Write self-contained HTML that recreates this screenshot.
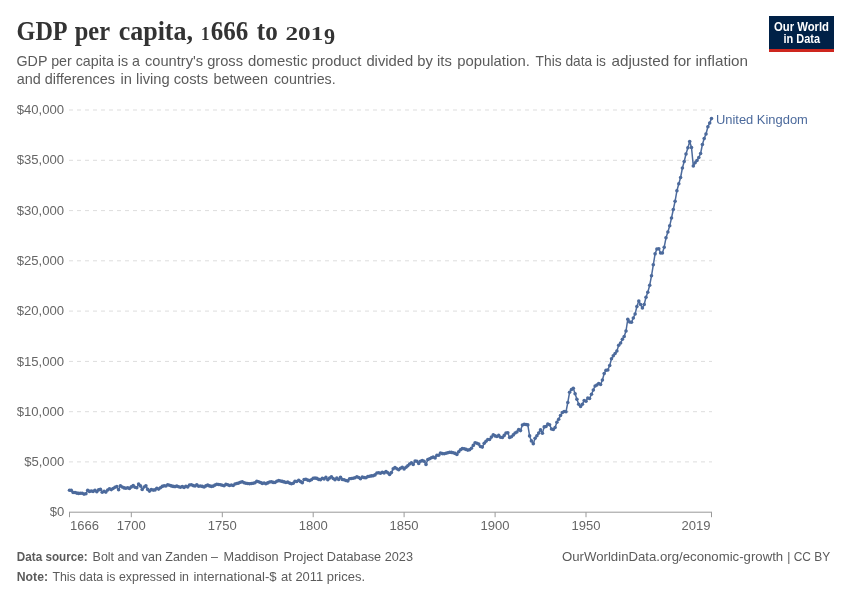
<!DOCTYPE html>
<html lang="en"><head><meta charset="utf-8"><title>GDP per capita, 1666 to 2019</title>
<style>
html,body{margin:0;padding:0;background:#fff;}
svg{display:block;font-family:"Liberation Sans",Arial,sans-serif;}
.title text{font-family:"Liberation Serif","Times New Roman",serif;font-weight:700;font-size:26.5px;fill:#333;}
.sub{font-size:14.6px;fill:#5b5b5b;}
.ylab text,.xlab text{font-size:13px;fill:#666;}
.grid line{stroke:#dddddd;stroke-width:1;stroke-dasharray:4 4;}
.axis line{stroke:#999;stroke-width:1;}
.foot{font-size:13px;fill:#5b5b5b;}
.b{font-weight:700;}
.logo text{font-weight:700;fill:#fff;font-size:12px;}
</style></head>
<body>
<svg width="850" height="600" viewBox="0 0 850 600">
<rect width="850" height="600" fill="#fff"/>
<g class="title">
<text x="16.6" y="40" textLength="51" lengthAdjust="spacingAndGlyphs">GDP</text>
<text x="74.7" y="40" textLength="35.3" lengthAdjust="spacingAndGlyphs">per</text>
<text x="118.7" y="40" textLength="74.3" lengthAdjust="spacingAndGlyphs">capita,</text>
<text x="201" y="40" style="font-size:18.4px" textLength="8.5" lengthAdjust="spacingAndGlyphs">1</text>
<text x="210.7" y="40" textLength="37.5" lengthAdjust="spacingAndGlyphs">666</text>
<text x="256.8" y="40" textLength="20.9" lengthAdjust="spacingAndGlyphs">to</text>
<text x="285.4" y="40" style="font-size:18.4px" textLength="37.9" lengthAdjust="spacingAndGlyphs">201</text>
<text x="324.1" y="44" style="font-size:24px" textLength="11.1" lengthAdjust="spacingAndGlyphs">9</text>
</g>
<text class="sub" x="16.5" y="66.2" textLength="123.5" lengthAdjust="spacingAndGlyphs">GDP per capita is a</text>
<text class="sub" x="145" y="66.2" textLength="98" lengthAdjust="spacingAndGlyphs">country's gross</text>
<text class="sub" x="248" y="66.2" textLength="113.4" lengthAdjust="spacingAndGlyphs">domestic product</text>
<text class="sub" x="366.4" y="66.2" textLength="85.4" lengthAdjust="spacingAndGlyphs">divided by its</text>
<text class="sub" x="457.2" y="66.2" textLength="72.7" lengthAdjust="spacingAndGlyphs">population.</text>
<text class="sub" x="535.6" y="66.2" textLength="70.3" lengthAdjust="spacingAndGlyphs">This data is</text>
<text class="sub" x="611.5" y="66.2" textLength="136.5" lengthAdjust="spacingAndGlyphs">adjusted for inflation</text>
<text class="sub" x="16.7" y="84.2" textLength="98.3" lengthAdjust="spacingAndGlyphs">and differences</text>
<text class="sub" x="120.6" y="84.2" textLength="87.4" lengthAdjust="spacingAndGlyphs">in living costs</text>
<text class="sub" x="213.4" y="84.2" textLength="54.6" lengthAdjust="spacingAndGlyphs">between</text>
<text class="sub" x="274" y="84.2" textLength="61.6" lengthAdjust="spacingAndGlyphs">countries.</text>
<g class="logo">
<rect x="769" y="16" width="65" height="36" fill="#002147"/>
<rect x="769" y="49" width="65" height="3" fill="#ce261e"/>
<text x="774" y="30.5" textLength="55" lengthAdjust="spacingAndGlyphs">Our World</text>
<text x="783.5" y="42.5" textLength="36.5" lengthAdjust="spacingAndGlyphs">in Data</text>
</g>
<g class="grid"><line x1="69" x2="712" y1="461.9" y2="461.9"/><line x1="69" x2="712" y1="411.7" y2="411.7"/><line x1="69" x2="712" y1="361.4" y2="361.4"/><line x1="69" x2="712" y1="311.1" y2="311.1"/><line x1="69" x2="712" y1="260.8" y2="260.8"/><line x1="69" x2="712" y1="210.6" y2="210.6"/><line x1="69" x2="712" y1="160.3" y2="160.3"/><line x1="69" x2="712" y1="110.0" y2="110.0"/></g>
<g class="ylab"><text x="49.7" y="516.3" textLength="14.5" lengthAdjust="spacingAndGlyphs">$0</text><text x="24.2" y="466.0" textLength="40" lengthAdjust="spacingAndGlyphs">$5,000</text><text x="16.7" y="415.8" textLength="47.5" lengthAdjust="spacingAndGlyphs">$10,000</text><text x="16.7" y="365.5" textLength="47.5" lengthAdjust="spacingAndGlyphs">$15,000</text><text x="16.7" y="315.2" textLength="47.5" lengthAdjust="spacingAndGlyphs">$20,000</text><text x="16.7" y="264.9" textLength="47.5" lengthAdjust="spacingAndGlyphs">$25,000</text><text x="16.7" y="214.7" textLength="47.5" lengthAdjust="spacingAndGlyphs">$30,000</text><text x="16.7" y="164.4" textLength="47.5" lengthAdjust="spacingAndGlyphs">$35,000</text><text x="16.7" y="114.1" textLength="47.5" lengthAdjust="spacingAndGlyphs">$40,000</text></g>
<g class="axis"><line x1="69" x2="712" y1="512.2" y2="512.2"/><line x1="69.5" x2="69.5" y1="512.2" y2="517.2"/><line x1="131.3" x2="131.3" y1="512.2" y2="517.2"/><line x1="222.3" x2="222.3" y1="512.2" y2="517.2"/><line x1="313.2" x2="313.2" y1="512.2" y2="517.2"/><line x1="404.1" x2="404.1" y1="512.2" y2="517.2"/><line x1="495.1" x2="495.1" y1="512.2" y2="517.2"/><line x1="586.0" x2="586.0" y1="512.2" y2="517.2"/><line x1="711.5" x2="711.5" y1="512.2" y2="517.2"/></g>
<g class="xlab"><text x="70.0" y="530.3" textLength="29" lengthAdjust="spacingAndGlyphs">1666</text><text x="116.8" y="530.3" textLength="29" lengthAdjust="spacingAndGlyphs">1700</text><text x="207.8" y="530.3" textLength="29" lengthAdjust="spacingAndGlyphs">1750</text><text x="298.7" y="530.3" textLength="29" lengthAdjust="spacingAndGlyphs">1800</text><text x="389.6" y="530.3" textLength="29" lengthAdjust="spacingAndGlyphs">1850</text><text x="480.6" y="530.3" textLength="29" lengthAdjust="spacingAndGlyphs">1900</text><text x="571.5" y="530.3" textLength="29" lengthAdjust="spacingAndGlyphs">1950</text><text x="681.6" y="530.3" textLength="29" lengthAdjust="spacingAndGlyphs">2019</text></g>
<path d="M69.5,490.2 L71.3,490.4 L73.1,492.5 L75.0,492.5 L76.8,493.1 L78.6,493.4 L80.4,493.2 L82.2,493.3 L84.0,494.1 L85.9,493.8 L87.7,490.2 L89.5,491.4 L91.3,491.0 L93.1,491.4 L95.0,490.3 L96.8,491.7 L98.6,489.9 L100.4,489.3 L102.2,492.3 L104.1,491.4 L105.9,492.1 L107.7,490.0 L109.5,488.8 L111.3,489.6 L113.1,488.5 L115.0,487.2 L116.8,486.6 L118.6,489.7 L120.4,485.8 L122.2,487.0 L124.1,487.9 L125.9,488.3 L127.7,487.7 L129.5,488.4 L131.3,486.9 L133.2,485.6 L135.0,487.2 L136.8,487.8 L138.6,484.1 L140.4,485.9 L142.2,489.5 L144.1,487.0 L145.9,485.8 L147.7,489.4 L149.5,491.1 L151.3,489.6 L153.2,490.1 L155.0,489.9 L156.8,488.2 L158.6,489.1 L160.4,487.8 L162.3,486.4 L164.1,485.8 L165.9,486.0 L167.7,484.7 L169.5,485.3 L171.3,485.9 L173.2,486.4 L175.0,486.6 L176.8,486.1 L178.6,486.8 L180.4,487.3 L182.3,486.6 L184.1,487.4 L185.9,486.3 L187.7,486.9 L189.5,485.0 L191.4,484.8 L193.2,485.6 L195.0,486.0 L196.8,484.8 L198.6,486.2 L200.4,486.0 L202.3,486.4 L204.1,487.0 L205.9,485.9 L207.7,485.1 L209.5,485.9 L211.4,486.4 L213.2,486.1 L215.0,485.1 L216.8,484.2 L218.6,484.5 L220.5,484.7 L222.3,485.2 L224.1,485.7 L225.9,484.4 L227.7,484.8 L229.5,485.5 L231.4,485.0 L233.2,485.5 L235.0,484.0 L236.8,483.5 L238.6,483.1 L240.5,482.2 L242.3,481.8 L244.1,482.8 L245.9,483.2 L247.7,483.5 L249.6,483.7 L251.4,483.5 L253.2,483.3 L255.0,482.8 L256.8,481.2 L258.6,481.8 L260.5,482.5 L262.3,483.4 L264.1,483.0 L265.9,483.8 L267.7,482.9 L269.6,482.0 L271.4,481.8 L273.2,482.4 L275.0,482.5 L276.8,481.3 L278.7,480.6 L280.5,481.0 L282.3,481.4 L284.1,481.9 L285.9,482.5 L287.7,482.1 L289.6,483.1 L291.4,483.7 L293.2,483.2 L295.0,481.2 L296.8,481.5 L298.7,480.3 L300.5,481.6 L302.3,482.8 L304.1,479.5 L305.9,479.2 L307.7,480.1 L309.6,480.6 L311.4,479.7 L313.2,478.2 L315.0,478.1 L316.8,478.4 L318.7,479.4 L320.5,479.8 L322.3,478.2 L324.1,478.9 L325.9,477.4 L327.8,479.7 L329.6,478.1 L331.4,476.7 L333.2,478.5 L335.0,479.8 L336.8,478.1 L338.7,479.5 L340.5,477.2 L342.3,479.5 L344.1,479.8 L345.9,480.5 L347.8,480.9 L349.6,478.8 L351.4,478.5 L353.2,478.3 L355.0,477.7 L356.9,476.7 L358.7,477.5 L360.5,478.8 L362.3,477.1 L364.1,477.6 L365.9,477.7 L367.8,476.6 L369.6,476.2 L371.4,475.9 L373.2,475.7 L375.0,474.9 L376.9,473.0 L378.7,472.7 L380.5,473.2 L382.3,472.2 L384.1,472.9 L386.0,471.6 L387.8,472.8 L389.6,474.4 L391.4,472.6 L393.2,468.8 L395.0,467.5 L396.9,468.8 L398.7,469.8 L400.5,468.3 L402.3,467.3 L404.1,468.9 L406.0,467.3 L407.8,465.7 L409.6,464.0 L411.4,462.7 L413.2,464.4 L415.1,461.0 L416.9,461.2 L418.7,463.4 L420.5,461.2 L422.3,460.6 L424.1,461.3 L426.0,464.4 L427.8,459.6 L429.6,458.7 L431.4,457.8 L433.2,457.1 L435.1,457.9 L436.9,455.2 L438.7,455.3 L440.5,453.0 L442.3,453.6 L444.2,453.8 L446.0,453.3 L447.8,452.8 L449.6,452.3 L451.4,452.4 L453.2,452.7 L455.1,453.4 L456.9,454.4 L458.7,451.7 L460.5,449.8 L462.3,448.6 L464.2,448.8 L466.0,449.4 L467.8,450.1 L469.6,449.7 L471.4,448.2 L473.3,445.4 L475.1,442.8 L476.9,443.3 L478.7,444.1 L480.5,446.5 L482.3,447.1 L484.2,443.3 L486.0,441.2 L487.8,439.5 L489.6,439.5 L491.4,437.1 L493.3,434.7 L495.1,435.9 L496.9,436.5 L498.7,435.4 L500.5,437.2 L502.4,437.5 L504.2,435.4 L506.0,433.0 L507.8,432.8 L509.6,437.5 L511.4,436.8 L513.3,434.9 L515.1,433.0 L516.9,432.0 L518.7,429.6 L520.5,430.6 L522.4,425.0 L524.2,424.3 L526.0,424.5 L527.8,424.9 L529.6,435.9 L531.4,440.9 L533.3,443.7 L535.1,438.2 L536.9,435.7 L538.7,433.1 L540.5,429.9 L542.4,433.2 L544.2,426.9 L546.0,426.5 L547.8,424.0 L549.6,424.8 L551.5,429.0 L553.3,429.5 L555.1,427.5 L556.9,422.2 L558.7,419.2 L560.5,415.5 L562.4,412.5 L564.2,411.5 L566.0,411.8 L567.8,402.5 L569.6,392.2 L571.5,389.5 L573.3,388.2 L575.1,393.8 L576.9,399.2 L578.7,404.2 L580.6,406.5 L582.4,404.2 L584.2,400.5 L586.0,401.2 L587.8,398.0 L589.6,398.5 L591.5,394.2 L593.3,390.0 L595.1,386.0 L596.9,385.0 L598.7,383.5 L600.6,384.5 L602.4,380.0 L604.2,373.5 L606.0,370.2 L607.8,370.0 L609.7,365.5 L611.5,358.8 L613.3,355.8 L615.1,353.5 L616.9,351.0 L618.7,345.3 L620.6,343.0 L622.4,339.3 L624.2,336.5 L626.0,331.0 L627.8,319.2 L629.7,322.0 L631.5,322.2 L633.3,318.0 L635.1,314.0 L636.9,306.5 L638.8,301.0 L640.6,304.5 L642.4,308.0 L644.2,304.5 L646.0,297.2 L647.8,292.2 L649.7,285.2 L651.5,275.8 L653.3,264.8 L655.1,253.8 L656.9,249.0 L658.8,248.8 L660.6,253.0 L662.4,253.0 L664.2,247.2 L666.0,237.8 L667.9,232.0 L669.7,225.8 L671.5,218.0 L673.3,209.5 L675.1,201.2 L676.9,190.8 L678.8,183.8 L680.6,177.5 L682.4,168.0 L684.2,161.5 L686.0,154.0 L687.9,147.8 L689.7,141.5 L691.5,147.5 L693.3,166.0 L695.1,162.8 L697.0,160.5 L698.8,157.5 L700.6,153.5 L702.4,144.5 L704.2,138.5 L706.0,134.0 L707.9,126.8 L709.7,123.0 L711.5,118.5" fill="none" stroke="#4C6A9C" stroke-width="1.5" stroke-linejoin="round" stroke-linecap="round"/>
<g fill="#4C6A9C"><circle cx="69.5" cy="490.2" r="1.8"/><circle cx="71.3" cy="490.4" r="1.8"/><circle cx="73.1" cy="492.5" r="1.8"/><circle cx="75.0" cy="492.5" r="1.8"/><circle cx="76.8" cy="493.1" r="1.8"/><circle cx="78.6" cy="493.4" r="1.8"/><circle cx="80.4" cy="493.2" r="1.8"/><circle cx="82.2" cy="493.3" r="1.8"/><circle cx="84.0" cy="494.1" r="1.8"/><circle cx="85.9" cy="493.8" r="1.8"/><circle cx="87.7" cy="490.2" r="1.8"/><circle cx="89.5" cy="491.4" r="1.8"/><circle cx="91.3" cy="491.0" r="1.8"/><circle cx="93.1" cy="491.4" r="1.8"/><circle cx="95.0" cy="490.3" r="1.8"/><circle cx="96.8" cy="491.7" r="1.8"/><circle cx="98.6" cy="489.9" r="1.8"/><circle cx="100.4" cy="489.3" r="1.8"/><circle cx="102.2" cy="492.3" r="1.8"/><circle cx="104.1" cy="491.4" r="1.8"/><circle cx="105.9" cy="492.1" r="1.8"/><circle cx="107.7" cy="490.0" r="1.8"/><circle cx="109.5" cy="488.8" r="1.8"/><circle cx="111.3" cy="489.6" r="1.8"/><circle cx="113.1" cy="488.5" r="1.8"/><circle cx="115.0" cy="487.2" r="1.8"/><circle cx="116.8" cy="486.6" r="1.8"/><circle cx="118.6" cy="489.7" r="1.8"/><circle cx="120.4" cy="485.8" r="1.8"/><circle cx="122.2" cy="487.0" r="1.8"/><circle cx="124.1" cy="487.9" r="1.8"/><circle cx="125.9" cy="488.3" r="1.8"/><circle cx="127.7" cy="487.7" r="1.8"/><circle cx="129.5" cy="488.4" r="1.8"/><circle cx="131.3" cy="486.9" r="1.8"/><circle cx="133.2" cy="485.6" r="1.8"/><circle cx="135.0" cy="487.2" r="1.8"/><circle cx="136.8" cy="487.8" r="1.8"/><circle cx="138.6" cy="484.1" r="1.8"/><circle cx="140.4" cy="485.9" r="1.8"/><circle cx="142.2" cy="489.5" r="1.8"/><circle cx="144.1" cy="487.0" r="1.8"/><circle cx="145.9" cy="485.8" r="1.8"/><circle cx="147.7" cy="489.4" r="1.8"/><circle cx="149.5" cy="491.1" r="1.8"/><circle cx="151.3" cy="489.6" r="1.8"/><circle cx="153.2" cy="490.1" r="1.8"/><circle cx="155.0" cy="489.9" r="1.8"/><circle cx="156.8" cy="488.2" r="1.8"/><circle cx="158.6" cy="489.1" r="1.8"/><circle cx="160.4" cy="487.8" r="1.8"/><circle cx="162.3" cy="486.4" r="1.8"/><circle cx="164.1" cy="485.8" r="1.8"/><circle cx="165.9" cy="486.0" r="1.8"/><circle cx="167.7" cy="484.7" r="1.8"/><circle cx="169.5" cy="485.3" r="1.8"/><circle cx="171.3" cy="485.9" r="1.8"/><circle cx="173.2" cy="486.4" r="1.8"/><circle cx="175.0" cy="486.6" r="1.8"/><circle cx="176.8" cy="486.1" r="1.8"/><circle cx="178.6" cy="486.8" r="1.8"/><circle cx="180.4" cy="487.3" r="1.8"/><circle cx="182.3" cy="486.6" r="1.8"/><circle cx="184.1" cy="487.4" r="1.8"/><circle cx="185.9" cy="486.3" r="1.8"/><circle cx="187.7" cy="486.9" r="1.8"/><circle cx="189.5" cy="485.0" r="1.8"/><circle cx="191.4" cy="484.8" r="1.8"/><circle cx="193.2" cy="485.6" r="1.8"/><circle cx="195.0" cy="486.0" r="1.8"/><circle cx="196.8" cy="484.8" r="1.8"/><circle cx="198.6" cy="486.2" r="1.8"/><circle cx="200.4" cy="486.0" r="1.8"/><circle cx="202.3" cy="486.4" r="1.8"/><circle cx="204.1" cy="487.0" r="1.8"/><circle cx="205.9" cy="485.9" r="1.8"/><circle cx="207.7" cy="485.1" r="1.8"/><circle cx="209.5" cy="485.9" r="1.8"/><circle cx="211.4" cy="486.4" r="1.8"/><circle cx="213.2" cy="486.1" r="1.8"/><circle cx="215.0" cy="485.1" r="1.8"/><circle cx="216.8" cy="484.2" r="1.8"/><circle cx="218.6" cy="484.5" r="1.8"/><circle cx="220.5" cy="484.7" r="1.8"/><circle cx="222.3" cy="485.2" r="1.8"/><circle cx="224.1" cy="485.7" r="1.8"/><circle cx="225.9" cy="484.4" r="1.8"/><circle cx="227.7" cy="484.8" r="1.8"/><circle cx="229.5" cy="485.5" r="1.8"/><circle cx="231.4" cy="485.0" r="1.8"/><circle cx="233.2" cy="485.5" r="1.8"/><circle cx="235.0" cy="484.0" r="1.8"/><circle cx="236.8" cy="483.5" r="1.8"/><circle cx="238.6" cy="483.1" r="1.8"/><circle cx="240.5" cy="482.2" r="1.8"/><circle cx="242.3" cy="481.8" r="1.8"/><circle cx="244.1" cy="482.8" r="1.8"/><circle cx="245.9" cy="483.2" r="1.8"/><circle cx="247.7" cy="483.5" r="1.8"/><circle cx="249.6" cy="483.7" r="1.8"/><circle cx="251.4" cy="483.5" r="1.8"/><circle cx="253.2" cy="483.3" r="1.8"/><circle cx="255.0" cy="482.8" r="1.8"/><circle cx="256.8" cy="481.2" r="1.8"/><circle cx="258.6" cy="481.8" r="1.8"/><circle cx="260.5" cy="482.5" r="1.8"/><circle cx="262.3" cy="483.4" r="1.8"/><circle cx="264.1" cy="483.0" r="1.8"/><circle cx="265.9" cy="483.8" r="1.8"/><circle cx="267.7" cy="482.9" r="1.8"/><circle cx="269.6" cy="482.0" r="1.8"/><circle cx="271.4" cy="481.8" r="1.8"/><circle cx="273.2" cy="482.4" r="1.8"/><circle cx="275.0" cy="482.5" r="1.8"/><circle cx="276.8" cy="481.3" r="1.8"/><circle cx="278.7" cy="480.6" r="1.8"/><circle cx="280.5" cy="481.0" r="1.8"/><circle cx="282.3" cy="481.4" r="1.8"/><circle cx="284.1" cy="481.9" r="1.8"/><circle cx="285.9" cy="482.5" r="1.8"/><circle cx="287.7" cy="482.1" r="1.8"/><circle cx="289.6" cy="483.1" r="1.8"/><circle cx="291.4" cy="483.7" r="1.8"/><circle cx="293.2" cy="483.2" r="1.8"/><circle cx="295.0" cy="481.2" r="1.8"/><circle cx="296.8" cy="481.5" r="1.8"/><circle cx="298.7" cy="480.3" r="1.8"/><circle cx="300.5" cy="481.6" r="1.8"/><circle cx="302.3" cy="482.8" r="1.8"/><circle cx="304.1" cy="479.5" r="1.8"/><circle cx="305.9" cy="479.2" r="1.8"/><circle cx="307.7" cy="480.1" r="1.8"/><circle cx="309.6" cy="480.6" r="1.8"/><circle cx="311.4" cy="479.7" r="1.8"/><circle cx="313.2" cy="478.2" r="1.8"/><circle cx="315.0" cy="478.1" r="1.8"/><circle cx="316.8" cy="478.4" r="1.8"/><circle cx="318.7" cy="479.4" r="1.8"/><circle cx="320.5" cy="479.8" r="1.8"/><circle cx="322.3" cy="478.2" r="1.8"/><circle cx="324.1" cy="478.9" r="1.8"/><circle cx="325.9" cy="477.4" r="1.8"/><circle cx="327.8" cy="479.7" r="1.8"/><circle cx="329.6" cy="478.1" r="1.8"/><circle cx="331.4" cy="476.7" r="1.8"/><circle cx="333.2" cy="478.5" r="1.8"/><circle cx="335.0" cy="479.8" r="1.8"/><circle cx="336.8" cy="478.1" r="1.8"/><circle cx="338.7" cy="479.5" r="1.8"/><circle cx="340.5" cy="477.2" r="1.8"/><circle cx="342.3" cy="479.5" r="1.8"/><circle cx="344.1" cy="479.8" r="1.8"/><circle cx="345.9" cy="480.5" r="1.8"/><circle cx="347.8" cy="480.9" r="1.8"/><circle cx="349.6" cy="478.8" r="1.8"/><circle cx="351.4" cy="478.5" r="1.8"/><circle cx="353.2" cy="478.3" r="1.8"/><circle cx="355.0" cy="477.7" r="1.8"/><circle cx="356.9" cy="476.7" r="1.8"/><circle cx="358.7" cy="477.5" r="1.8"/><circle cx="360.5" cy="478.8" r="1.8"/><circle cx="362.3" cy="477.1" r="1.8"/><circle cx="364.1" cy="477.6" r="1.8"/><circle cx="365.9" cy="477.7" r="1.8"/><circle cx="367.8" cy="476.6" r="1.8"/><circle cx="369.6" cy="476.2" r="1.8"/><circle cx="371.4" cy="475.9" r="1.8"/><circle cx="373.2" cy="475.7" r="1.8"/><circle cx="375.0" cy="474.9" r="1.8"/><circle cx="376.9" cy="473.0" r="1.8"/><circle cx="378.7" cy="472.7" r="1.8"/><circle cx="380.5" cy="473.2" r="1.8"/><circle cx="382.3" cy="472.2" r="1.8"/><circle cx="384.1" cy="472.9" r="1.8"/><circle cx="386.0" cy="471.6" r="1.8"/><circle cx="387.8" cy="472.8" r="1.8"/><circle cx="389.6" cy="474.4" r="1.8"/><circle cx="391.4" cy="472.6" r="1.8"/><circle cx="393.2" cy="468.8" r="1.8"/><circle cx="395.0" cy="467.5" r="1.8"/><circle cx="396.9" cy="468.8" r="1.8"/><circle cx="398.7" cy="469.8" r="1.8"/><circle cx="400.5" cy="468.3" r="1.8"/><circle cx="402.3" cy="467.3" r="1.8"/><circle cx="404.1" cy="468.9" r="1.8"/><circle cx="406.0" cy="467.3" r="1.8"/><circle cx="407.8" cy="465.7" r="1.8"/><circle cx="409.6" cy="464.0" r="1.8"/><circle cx="411.4" cy="462.7" r="1.8"/><circle cx="413.2" cy="464.4" r="1.8"/><circle cx="415.1" cy="461.0" r="1.8"/><circle cx="416.9" cy="461.2" r="1.8"/><circle cx="418.7" cy="463.4" r="1.8"/><circle cx="420.5" cy="461.2" r="1.8"/><circle cx="422.3" cy="460.6" r="1.8"/><circle cx="424.1" cy="461.3" r="1.8"/><circle cx="426.0" cy="464.4" r="1.8"/><circle cx="427.8" cy="459.6" r="1.8"/><circle cx="429.6" cy="458.7" r="1.8"/><circle cx="431.4" cy="457.8" r="1.8"/><circle cx="433.2" cy="457.1" r="1.8"/><circle cx="435.1" cy="457.9" r="1.8"/><circle cx="436.9" cy="455.2" r="1.8"/><circle cx="438.7" cy="455.3" r="1.8"/><circle cx="440.5" cy="453.0" r="1.8"/><circle cx="442.3" cy="453.6" r="1.8"/><circle cx="444.2" cy="453.8" r="1.8"/><circle cx="446.0" cy="453.3" r="1.8"/><circle cx="447.8" cy="452.8" r="1.8"/><circle cx="449.6" cy="452.3" r="1.8"/><circle cx="451.4" cy="452.4" r="1.8"/><circle cx="453.2" cy="452.7" r="1.8"/><circle cx="455.1" cy="453.4" r="1.8"/><circle cx="456.9" cy="454.4" r="1.8"/><circle cx="458.7" cy="451.7" r="1.8"/><circle cx="460.5" cy="449.8" r="1.8"/><circle cx="462.3" cy="448.6" r="1.8"/><circle cx="464.2" cy="448.8" r="1.8"/><circle cx="466.0" cy="449.4" r="1.8"/><circle cx="467.8" cy="450.1" r="1.8"/><circle cx="469.6" cy="449.7" r="1.8"/><circle cx="471.4" cy="448.2" r="1.8"/><circle cx="473.3" cy="445.4" r="1.8"/><circle cx="475.1" cy="442.8" r="1.8"/><circle cx="476.9" cy="443.3" r="1.8"/><circle cx="478.7" cy="444.1" r="1.8"/><circle cx="480.5" cy="446.5" r="1.8"/><circle cx="482.3" cy="447.1" r="1.8"/><circle cx="484.2" cy="443.3" r="1.8"/><circle cx="486.0" cy="441.2" r="1.8"/><circle cx="487.8" cy="439.5" r="1.8"/><circle cx="489.6" cy="439.5" r="1.8"/><circle cx="491.4" cy="437.1" r="1.8"/><circle cx="493.3" cy="434.7" r="1.8"/><circle cx="495.1" cy="435.9" r="1.8"/><circle cx="496.9" cy="436.5" r="1.8"/><circle cx="498.7" cy="435.4" r="1.8"/><circle cx="500.5" cy="437.2" r="1.8"/><circle cx="502.4" cy="437.5" r="1.8"/><circle cx="504.2" cy="435.4" r="1.8"/><circle cx="506.0" cy="433.0" r="1.8"/><circle cx="507.8" cy="432.8" r="1.8"/><circle cx="509.6" cy="437.5" r="1.8"/><circle cx="511.4" cy="436.8" r="1.8"/><circle cx="513.3" cy="434.9" r="1.8"/><circle cx="515.1" cy="433.0" r="1.8"/><circle cx="516.9" cy="432.0" r="1.8"/><circle cx="518.7" cy="429.6" r="1.8"/><circle cx="520.5" cy="430.6" r="1.8"/><circle cx="522.4" cy="425.0" r="1.8"/><circle cx="524.2" cy="424.3" r="1.8"/><circle cx="526.0" cy="424.5" r="1.8"/><circle cx="527.8" cy="424.9" r="1.8"/><circle cx="529.6" cy="435.9" r="1.8"/><circle cx="531.4" cy="440.9" r="1.8"/><circle cx="533.3" cy="443.7" r="1.8"/><circle cx="535.1" cy="438.2" r="1.8"/><circle cx="536.9" cy="435.7" r="1.8"/><circle cx="538.7" cy="433.1" r="1.8"/><circle cx="540.5" cy="429.9" r="1.8"/><circle cx="542.4" cy="433.2" r="1.8"/><circle cx="544.2" cy="426.9" r="1.8"/><circle cx="546.0" cy="426.5" r="1.8"/><circle cx="547.8" cy="424.0" r="1.8"/><circle cx="549.6" cy="424.8" r="1.8"/><circle cx="551.5" cy="429.0" r="1.8"/><circle cx="553.3" cy="429.5" r="1.8"/><circle cx="555.1" cy="427.5" r="1.8"/><circle cx="556.9" cy="422.2" r="1.8"/><circle cx="558.7" cy="419.2" r="1.8"/><circle cx="560.5" cy="415.5" r="1.8"/><circle cx="562.4" cy="412.5" r="1.8"/><circle cx="564.2" cy="411.5" r="1.8"/><circle cx="566.0" cy="411.8" r="1.8"/><circle cx="567.8" cy="402.5" r="1.8"/><circle cx="569.6" cy="392.2" r="1.8"/><circle cx="571.5" cy="389.5" r="1.8"/><circle cx="573.3" cy="388.2" r="1.8"/><circle cx="575.1" cy="393.8" r="1.8"/><circle cx="576.9" cy="399.2" r="1.8"/><circle cx="578.7" cy="404.2" r="1.8"/><circle cx="580.6" cy="406.5" r="1.8"/><circle cx="582.4" cy="404.2" r="1.8"/><circle cx="584.2" cy="400.5" r="1.8"/><circle cx="586.0" cy="401.2" r="1.8"/><circle cx="587.8" cy="398.0" r="1.8"/><circle cx="589.6" cy="398.5" r="1.8"/><circle cx="591.5" cy="394.2" r="1.8"/><circle cx="593.3" cy="390.0" r="1.8"/><circle cx="595.1" cy="386.0" r="1.8"/><circle cx="596.9" cy="385.0" r="1.8"/><circle cx="598.7" cy="383.5" r="1.8"/><circle cx="600.6" cy="384.5" r="1.8"/><circle cx="602.4" cy="380.0" r="1.8"/><circle cx="604.2" cy="373.5" r="1.8"/><circle cx="606.0" cy="370.2" r="1.8"/><circle cx="607.8" cy="370.0" r="1.8"/><circle cx="609.7" cy="365.5" r="1.8"/><circle cx="611.5" cy="358.8" r="1.8"/><circle cx="613.3" cy="355.8" r="1.8"/><circle cx="615.1" cy="353.5" r="1.8"/><circle cx="616.9" cy="351.0" r="1.8"/><circle cx="618.7" cy="345.3" r="1.8"/><circle cx="620.6" cy="343.0" r="1.8"/><circle cx="622.4" cy="339.3" r="1.8"/><circle cx="624.2" cy="336.5" r="1.8"/><circle cx="626.0" cy="331.0" r="1.8"/><circle cx="627.8" cy="319.2" r="1.8"/><circle cx="629.7" cy="322.0" r="1.8"/><circle cx="631.5" cy="322.2" r="1.8"/><circle cx="633.3" cy="318.0" r="1.8"/><circle cx="635.1" cy="314.0" r="1.8"/><circle cx="636.9" cy="306.5" r="1.8"/><circle cx="638.8" cy="301.0" r="1.8"/><circle cx="640.6" cy="304.5" r="1.8"/><circle cx="642.4" cy="308.0" r="1.8"/><circle cx="644.2" cy="304.5" r="1.8"/><circle cx="646.0" cy="297.2" r="1.8"/><circle cx="647.8" cy="292.2" r="1.8"/><circle cx="649.7" cy="285.2" r="1.8"/><circle cx="651.5" cy="275.8" r="1.8"/><circle cx="653.3" cy="264.8" r="1.8"/><circle cx="655.1" cy="253.8" r="1.8"/><circle cx="656.9" cy="249.0" r="1.8"/><circle cx="658.8" cy="248.8" r="1.8"/><circle cx="660.6" cy="253.0" r="1.8"/><circle cx="662.4" cy="253.0" r="1.8"/><circle cx="664.2" cy="247.2" r="1.8"/><circle cx="666.0" cy="237.8" r="1.8"/><circle cx="667.9" cy="232.0" r="1.8"/><circle cx="669.7" cy="225.8" r="1.8"/><circle cx="671.5" cy="218.0" r="1.8"/><circle cx="673.3" cy="209.5" r="1.8"/><circle cx="675.1" cy="201.2" r="1.8"/><circle cx="676.9" cy="190.8" r="1.8"/><circle cx="678.8" cy="183.8" r="1.8"/><circle cx="680.6" cy="177.5" r="1.8"/><circle cx="682.4" cy="168.0" r="1.8"/><circle cx="684.2" cy="161.5" r="1.8"/><circle cx="686.0" cy="154.0" r="1.8"/><circle cx="687.9" cy="147.8" r="1.8"/><circle cx="689.7" cy="141.5" r="1.8"/><circle cx="691.5" cy="147.5" r="1.8"/><circle cx="693.3" cy="166.0" r="1.8"/><circle cx="695.1" cy="162.8" r="1.8"/><circle cx="697.0" cy="160.5" r="1.8"/><circle cx="698.8" cy="157.5" r="1.8"/><circle cx="700.6" cy="153.5" r="1.8"/><circle cx="702.4" cy="144.5" r="1.8"/><circle cx="704.2" cy="138.5" r="1.8"/><circle cx="706.0" cy="134.0" r="1.8"/><circle cx="707.9" cy="126.8" r="1.8"/><circle cx="709.7" cy="123.0" r="1.8"/><circle cx="711.5" cy="118.5" r="1.8"/></g>
<text x="715.9" y="123.8" font-size="13" fill="#4C6A9C" textLength="92" lengthAdjust="spacingAndGlyphs">United Kingdom</text>
<text class="foot b" x="16.8" y="560.6" textLength="70.8" lengthAdjust="spacingAndGlyphs">Data source:</text>
<text class="foot" x="92.6" y="560.6" textLength="125.4" lengthAdjust="spacingAndGlyphs">Bolt and van Zanden –</text>
<text class="foot" x="223.6" y="560.6" textLength="55.0" lengthAdjust="spacingAndGlyphs">Maddison</text>
<text class="foot" x="283.6" y="560.6" textLength="129.4" lengthAdjust="spacingAndGlyphs">Project Database 2023</text>
<text class="foot b" x="16.8" y="580.5" textLength="31.2" lengthAdjust="spacingAndGlyphs">Note:</text>
<text class="foot" x="52.4" y="580.5" textLength="136.6" lengthAdjust="spacingAndGlyphs">This data is expressed in</text>
<text class="foot" x="193.4" y="580.5" textLength="83.2" lengthAdjust="spacingAndGlyphs">international-$</text>
<text class="foot" x="281" y="580.5" textLength="84" lengthAdjust="spacingAndGlyphs">at 2011 prices.</text>
<text class="foot" x="562" y="560.6" textLength="221.2" lengthAdjust="spacingAndGlyphs">OurWorldinData.org/economic-growth</text>
<text class="foot" x="787.3" y="560.6" textLength="43.0" lengthAdjust="spacingAndGlyphs">| CC BY</text>
</svg>
</body></html>
